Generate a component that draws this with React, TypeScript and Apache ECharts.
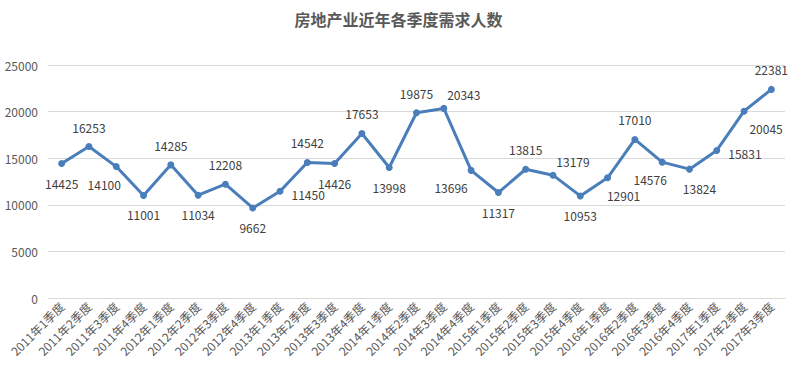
import React, { useEffect, useRef } from "react";
import * as echarts from "echarts";

const categories = [
  "2011年1季度", "2011年2季度", "2011年3季度", "2011年4季度",
  "2012年1季度", "2012年2季度", "2012年3季度", "2012年4季度",
  "2013年1季度", "2013年2季度", "2013年3季度", "2013年4季度",
  "2014年1季度", "2014年2季度", "2014年3季度", "2014年4季度",
  "2015年1季度", "2015年2季度", "2015年3季度", "2015年4季度",
  "2016年1季度", "2016年2季度", "2016年3季度", "2016年4季度",
  "2017年1季度", "2017年2季度", "2017年3季度",
];

const values = [
  14425, 16253, 14100, 11001,
  14285, 11034, 12208, 9662,
  11450, 14542, 14426, 17653,
  13998, 19875, 20343, 13696,
  11317, 13815, 13179, 10953,
  12901, 17010, 14576, 13824,
  15831, 20045, 22381,
];

// label placement per point (style hints)
const labelPlaces = [
  "b", "t", "bl", "b",
  "t", "b", "t", "b",
  "r", "t", "b", "t",
  "b", "t", "tr", "bl2",
  "b", "t", "tr", "b",
  "br", "t", "bl", "bs",
  "r", "br2", "t",
];

const yTicks = [0, 5000, 10000, 15000, 20000, 25000];

function placeLabel(p: string) {
  switch (p) {
    case "t":
      return { position: "top", distance: 10 };
    case "b":
      return { position: "bottom", distance: 10 };
    case "r":
      return { position: "right", distance: 8, offset: [0, 3] };
    case "tr":
      return { position: "top", distance: 4, offset: [20, 0] };
    case "bl":
      return { position: "bottom", distance: 8, offset: [-12, 0] };
    case "bl2":
      return { position: "bottom", distance: 8, offset: [-20, 0] };
    case "bs":
      return { position: "bottom", distance: 10, offset: [10, 0] };
    case "br":
      return { position: "bottom", distance: 8, offset: [16, 0] };
    case "br2":
      return { position: "bottom", distance: 8, offset: [22, 0] };
    default:
      return { position: "top" };
  }
}

export default function App() {
  const ref = useRef<HTMLDivElement>(null);
  useEffect(() => {
    if (!ref.current) return;
    const chart = echarts.init(ref.current, undefined, { renderer: "svg" });
    const data = values.map((v, i) => ({
      value: v,
      label: placeLabel(labelPlaces[i]),
    }));
    chart.setOption({
      animation: false,
      backgroundColor: "#ffffff",
      title: {
        text: "房地产业近年各季度需求人数",
        left: "center",
        top: 6,
        textStyle: {
          fontFamily: "Noto Sans CJK SC",
          fontSize: 16,
          fontWeight: "bold",
          color: "#595959",
        },
      },
      grid: { left: 48, right: 12, top: 65, bottom: 74 },
      xAxis: {
        type: "category",
        data: categories,
        boundaryGap: true,
        axisLine: { show: true, lineStyle: { color: "#d9d9d9", width: 1 } },
        axisTick: { show: false },
        axisLabel: {
          rotate: 45,
          interval: 0,
          margin: 6,
          fontSize: 12,
          color: "#595959",
          fontFamily: "Noto Sans CJK SC",
        },
      },
      yAxis: {
        type: "value",
        min: yTicks[0],
        max: yTicks[yTicks.length - 1],
        interval: 5000,
        axisLine: { show: false },
        axisTick: { show: false },
        splitLine: { lineStyle: { color: "#d9d9d9", width: 1 } },
        axisLabel: {
          fontSize: 12,
          color: "#595959",
          margin: 10,
          fontFamily: "Noto Sans CJK SC",
          formatter: (v: number) => String(v),
        },
      },
      series: [
        {
          type: "line",
          data,
          symbol: "circle",
          symbolSize: 7,
          lineStyle: { color: "#4a7ebb", width: 3 },
          itemStyle: { color: "#4a7ebb" },
          label: {
            show: true,
            fontSize: 12,
            color: "#404040",
            fontFamily: "Noto Sans CJK SC",
          },
        },
      ],
    });
    return () => chart.dispose();
  }, []);
  return <div ref={ref} style={{ width: 797, height: 372, position: "absolute", left: 0, top: 0 }} />;
}
